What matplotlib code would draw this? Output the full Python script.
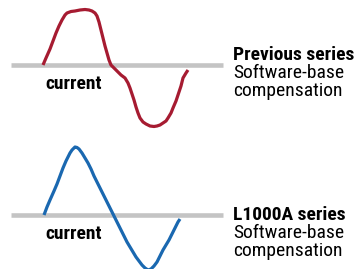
import matplotlib
matplotlib.use("Agg")
import matplotlib.pyplot as plt
from matplotlib import font_manager

# points (pixel coords, y down)
prev_x = [43, 46, 50, 53, 56, 59, 62, 65, 67, 71, 75, 80, 85, 89, 92, 95, 97, 99, 101, 103, 105, 107, 109,
          111, 113, 116, 118, 121, 125, 128, 130, 132, 134, 136, 138, 140, 143, 146, 150, 154, 157, 160,
          163, 166, 168, 171, 173, 176, 178, 181, 183, 186, 188]
prev_y = [65, 58, 49, 41, 33, 26, 20, 15, 13, 11.5, 11, 10, 9.5, 10, 11, 13, 16, 22, 30, 38, 46, 53, 60,
          65, 67, 70, 72, 75, 78, 83, 88, 94, 100, 107, 113, 118, 122, 124, 126, 126.5, 126, 125,
          123, 121, 118, 113, 108, 101, 95, 86, 78, 73, 70]

new_x = [44, 47, 50, 54, 57, 60, 63, 66, 68, 70, 72, 74, 75, 77, 79, 82, 85, 88, 91, 94, 97, 100, 103,
         106, 109, 112, 115, 118, 121, 124, 127, 130, 133, 136, 139, 142, 145, 148, 151, 154, 157,
         160, 163, 166, 169, 172, 175, 178, 180]
new_y = [215, 207, 200, 191, 184, 176, 168, 161, 157, 153, 150, 148, 147, 147.5, 149, 153, 158, 163, 169,
         176, 182, 188, 194, 200, 206, 212, 218, 224, 230, 236, 242, 247, 252, 257, 261, 265, 268, 270,
         269, 266, 262, 256, 250, 245, 240, 234, 228, 222, 219]

baseline_x = [11, 223]
titles = ["Previous series", "L1000A series"]
subtitle = ["Software-base", "compensation"]
axis_label = "current"

red = "#A61B31"
blue = "#1A68B0"
gray = "#C4C4C4"

names = {f.name for f in font_manager.fontManager.ttflist}
font = dict(family="DejaVu Sans", stretch="condensed", size=12)
for cand, size in [("Roboto Condensed", 14), ("PT Sans Narrow", 15)]:
    if cand in names:
        font = dict(family=cand, size=size)
        break

fig = plt.figure(figsize=(3.55, 2.69), dpi=100)
ax = fig.add_axes([0, 0, 1, 1])
ax.set_xlim(0, 355)
ax.set_ylim(269, 0)
ax.axis("off")

panels = [(prev_x, prev_y, red, 64.5, 60), (new_x, new_y, blue, 214.5, 220)]
for i, (xs, ys, col, y0, tb) in enumerate(panels):
    ax.plot(baseline_x, [y0, y0], color=gray, lw=3.3, solid_capstyle="butt", zorder=1)
    ax.plot(xs, ys, color=col, lw=2.3, solid_capstyle="butt", solid_joinstyle="round", zorder=2)
    ax.text(45, y0 + 24.5, axis_label, fontproperties=None, weight="bold", va="baseline", ha="left", **font)
    ax.text(233, tb, titles[i], weight="bold", va="baseline", ha="left", **font)
    ax.text(233, tb + 18, subtitle[0], va="baseline", ha="left", **font)
    ax.text(233, tb + 36, subtitle[1], va="baseline", ha="left", **font)

fig.savefig("out.png", dpi=100)
